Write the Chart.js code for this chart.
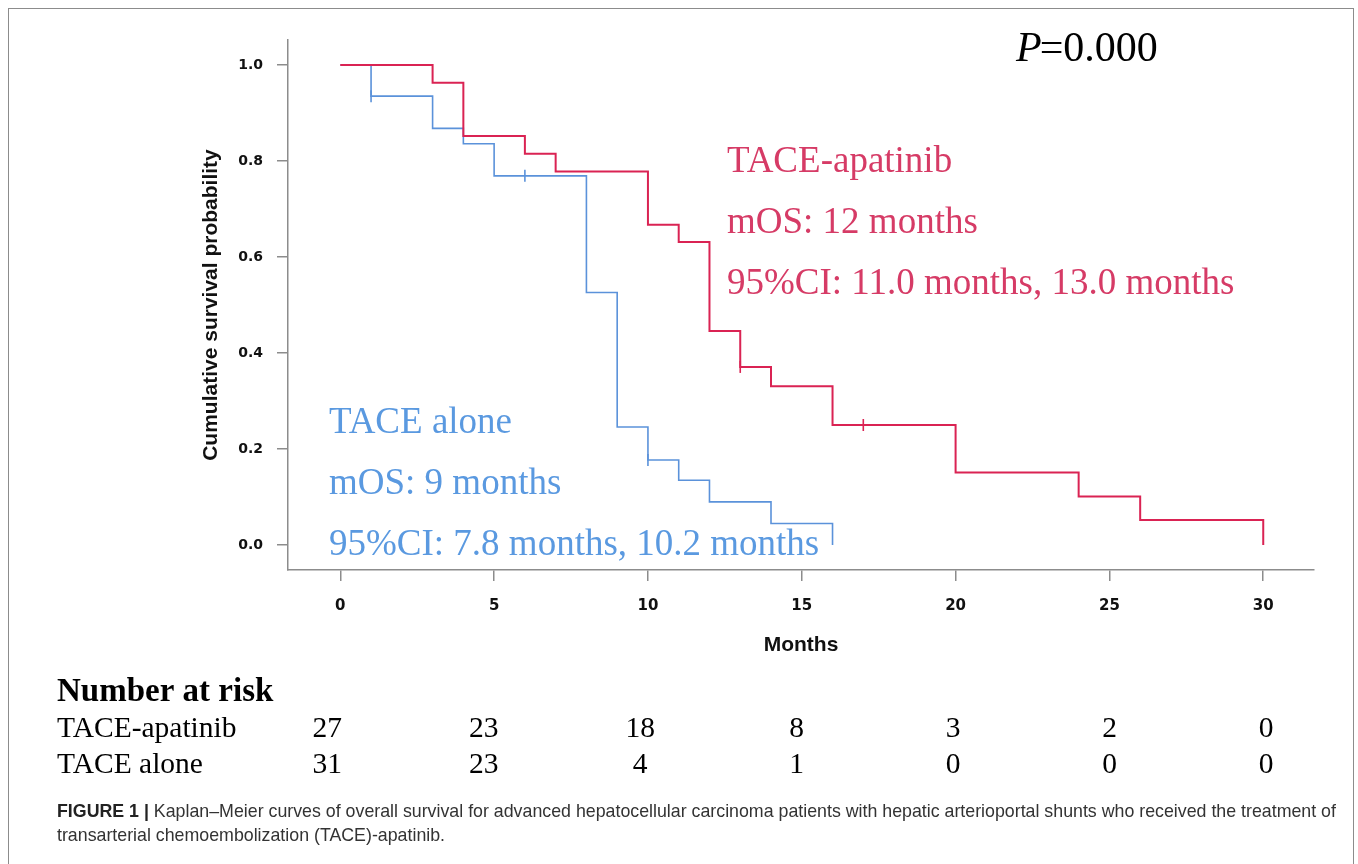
<!DOCTYPE html>
<html>
<head>
<meta charset="utf-8">
<script src="https://cdn.jsdelivr.net/npm/chart.js@4.4.0/dist/chart.umd.min.js"></script>
<style>
  body { margin: 0; background: #fff; }
  #wrap { position: relative; width: 1358px; height: 864px; overflow: hidden; }
  #frame { position: absolute; left: 8px; top: 8px; width: 1346px; height: 900px; border: 1.5px solid #8c8c8c; box-sizing: border-box; }
  canvas { position: absolute; left: 0; top: 0; }
  #caption { position: absolute; left: 57px; top: 799px; font: 17.8px "Liberation Sans", Arial, sans-serif; color: #333; line-height: 24px; white-space: nowrap; }
  #caption b { color: #222; }
</style>
</head>
<body>
<div id="wrap">
  <div id="frame"></div>
  <canvas id="km" width="1358" height="864"></canvas>
  <div id="caption"><b>FIGURE 1 |</b> Kaplan–Meier curves of overall survival for advanced hepatocellular carcinoma patients with hepatic arterioportal shunts who received the treatment of<br>transarterial chemoembolization (TACE)-apatinib.</div>
</div>
<script>
// KM steps: time of each event and survival right after it
const apatinibTimes = [0, 3, 4, 6, 7, 10, 11, 12, 13, 14, 16, 20, 24, 26, 30];
const apatinibSurv = [1, 0.963, 0.852, 0.815, 0.778, 0.667, 0.631, 0.446, 0.371, 0.331, 0.25, 0.151, 0.101, 0.052, 0];
const apatinibCensorTimes = [13, 17];
const apatinibCensorSurv = [0.371, 0.25];

const aloneTimes = [0, 1, 3, 4, 5, 8, 9, 10, 11, 12, 14, 16];
const aloneSurv = [1, 0.935, 0.868, 0.836, 0.769, 0.526, 0.246, 0.177, 0.135, 0.09, 0.045, 0];
const aloneCensorTimes = [1, 6, 10];
const aloneCensorSurv = [0.935, 0.769, 0.177];

const xTicks = [0, 5, 10, 15, 20, 25, 30];
const yTicks = [0, 0.2, 0.4, 0.6, 0.8, 1.0];

const riskApatinib = [27, 23, 18, 8, 3, 2, 0];
const riskAlone = [31, 23, 4, 1, 0, 0, 0];

const RED = '#DA2353';
const BLUE = '#5B92DA';
const RED_TXT = '#D63B66';
const BLUE_TXT = '#5A99E0';
const AXIS = '#8c8c8c';

function pts(xs, ys) {
  return xs.map((x, i) => ({ x: x, y: ys[i] }));
}

// text labels, p value and the number-at-risk table
const extras = {
  id: 'extras',
  afterDraw(chart) {
    const ctx = chart.ctx;
    const xs = chart.scales.x;
    ctx.save();
    ctx.textBaseline = 'alphabetic';
    ctx.textAlign = 'left';

    // P value
    ctx.fillStyle = '#000';
    ctx.font = 'italic 42px "Liberation Serif"';
    ctx.fillText('P', 1016, 61);
    const pw = ctx.measureText('P').width;
    ctx.font = '42px "Liberation Serif"';
    ctx.fillText('=0.000', 1016 + pw - 2, 61);

    ctx.font = '37px "Liberation Serif"';
    ctx.fillStyle = RED_TXT;
    ctx.fillText('TACE-apatinib', 727, 172);
    ctx.fillText('mOS: 12 months', 727, 233);
    ctx.fillText('95%CI: 11.0 months, 13.0 months', 727, 294);

    ctx.fillStyle = BLUE_TXT;
    ctx.fillText('TACE alone', 329, 433);
    ctx.fillText('mOS: 9 months', 329, 494);
    ctx.fillText('95%CI: 7.8 months, 10.2 months', 329, 555);

    // number at risk
    ctx.fillStyle = '#000';
    ctx.font = 'bold 33px "Liberation Serif"';
    ctx.fillText('Number at risk', 57, 701);
    ctx.font = '29.5px "Liberation Serif"';
    ctx.fillText('TACE-apatinib', 57, 737);
    ctx.fillText('TACE alone', 57, 773);
    ctx.textAlign = 'center';
    xTicks.forEach((t, i) => {
      const px = xs.getPixelForValue(t) - 13 + t * 0.53;
      ctx.fillText(String(riskApatinib[i]), px, 737);
      ctx.fillText(String(riskAlone[i]), px, 773);
    });
    ctx.restore();
  }
};

new Chart(document.getElementById('km'), {
  type: 'scatter',
  data: {
    datasets: [
      {
        data: pts(apatinibTimes, apatinibSurv),
        showLine: true, stepped: 'before',
        borderColor: RED, borderWidth: 2, pointRadius: 0
      },
      {
        data: pts(aloneTimes, aloneSurv),
        showLine: true, stepped: 'before',
        borderColor: BLUE, borderWidth: 1.6, pointRadius: 0
      },
      {
        data: pts(apatinibCensorTimes, apatinibCensorSurv),
        showLine: false, pointStyle: 'line', rotation: 90, pointRadius: 6,
        borderColor: RED, backgroundColor: RED, pointBorderWidth: 1.6
      },
      {
        data: pts(aloneCensorTimes, aloneCensorSurv),
        showLine: false, pointStyle: 'line', rotation: 90, pointRadius: 6,
        borderColor: BLUE, backgroundColor: BLUE, pointBorderWidth: 1.6
      }
    ]
  },
  options: {
    responsive: false,
    animation: false,
    layout: { padding: { left: 0, top: 40, right: 44, bottom: 0 } },
    plugins: {
      legend: { display: false },
      tooltip: { enabled: false }
    },
    scales: {
      x: {
        type: 'linear',
        min: -1.7, max: 31.65,
        afterBuildTicks: s => { s.ticks = xTicks.map(v => ({ value: v })); },
        afterFit: s => { s.height = 294; },
        grid: { drawOnChartArea: false, tickLength: 11, color: AXIS, lineWidth: 1.5 },
        border: { display: true, color: AXIS, width: 1.5 },
        ticks: {
          padding: 16,
          color: '#111',
          font: { family: 'DejaVu Sans', weight: 'bold', size: 15 },
          callback: v => String(v)
        },
        title: {
          display: true, text: 'Months', color: '#111',
          font: { family: 'Liberation Sans', weight: 'bold', size: 21 },
          padding: { top: 0, bottom: 206 }
        }
      },
      y: {
        type: 'linear',
        min: -0.052, max: 1.052,
        afterBuildTicks: s => { s.ticks = yTicks.map(v => ({ value: v })); },
        afterFit: s => { s.width = 288; },
        grid: { drawOnChartArea: false, tickLength: 11, color: AXIS, lineWidth: 1.5 },
        border: { display: true, color: AXIS, width: 1.5 },
        ticks: {
          padding: 14,
          color: '#111',
          font: { family: 'DejaVu Sans', weight: 'bold', size: 14 },
          callback: v => Number(v).toFixed(1)
        },
        title: {
          display: true, text: 'Cumulative survival probability', color: '#111',
          font: { family: 'Liberation Sans', weight: 'bold', size: 21 },
          padding: { top: 199, bottom: 0 }
        }
      }
    }
  },
  plugins: [extras]
});
</script>
</body>
</html>
